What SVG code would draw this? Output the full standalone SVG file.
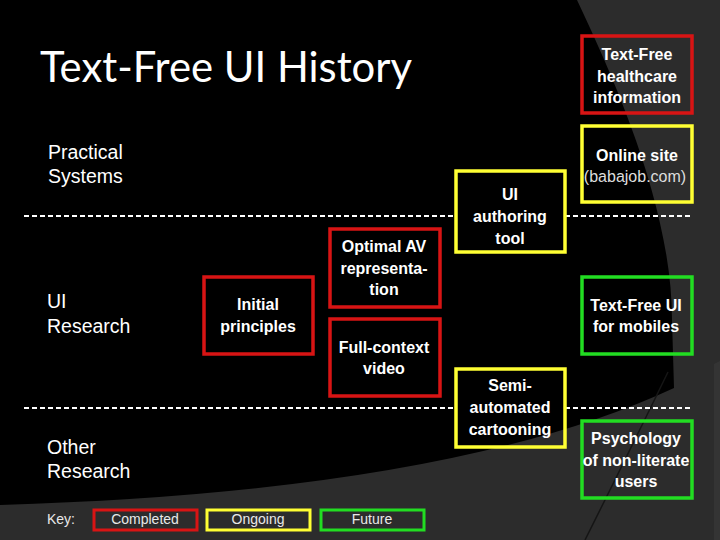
<svg xmlns="http://www.w3.org/2000/svg" width="720" height="540" viewBox="0 0 720 540">
<style>
.lbl{font-family:"Liberation Sans",Arial,sans-serif;font-size:19.5px;fill:#ffffff}
.bt{font-family:"Liberation Sans",Arial,sans-serif;font-size:16px;font-weight:bold;fill:#ffffff;text-anchor:middle}
.kt{font-family:"Liberation Sans",Arial,sans-serif;font-size:14px;fill:#e8e8e8;text-anchor:middle}
.box{fill:none;stroke-width:3.5}
.red{stroke:#d81414}
.yel{stroke:#ffff33}
.grn{stroke:#22dd22}
.dash{stroke:#ffffff;stroke-width:2;stroke-dasharray:5 3;fill:none}
</style>
<g id="background">
<rect x="0" y="0" width="720" height="540" fill="#2c2c2c"/>
<path d="M0,0 L577,0 C622,95 672,215 672,320 L674,388 Q450,492 0,505 Z" fill="#000000"/>
<path d="M714,364 L720,361 L720,540 L714,540 Z" fill="#343434"/>
<path d="M585,540 Q635,440 668,372" fill="none" stroke="#151515" stroke-width="1.5"/>
</g>
<g id="title">
<text x="40" y="82" font-family="Lato,'Open Sans',sans-serif" font-size="42" fill="#ffffff" textLength="372" lengthAdjust="spacingAndGlyphs">Text-Free UI History</text>
</g>
<g id="row-labels">
<text class="lbl" x="48" y="159">Practical</text>
<text class="lbl" x="48" y="183">Systems</text>
<text class="lbl" x="47" y="308">UI</text>
<text class="lbl" x="47" y="333">Research</text>
<text class="lbl" x="47" y="454">Other</text>
<text class="lbl" x="47" y="478">Research</text>
</g>
<g id="connectors">
<line class="dash" x1="24" y1="216" x2="455" y2="216"/>
<line class="dash" x1="565" y1="216" x2="692" y2="216"/>
<line class="dash" x1="24" y1="408" x2="455" y2="408"/>
<line class="dash" x1="565" y1="408" x2="692" y2="408"/>
</g>
<g id="n-healthcare">
<rect class="box red" x="582" y="36" width="110" height="77"/>
<text class="bt" x="637" y="60">Text-Free</text>
<text class="bt" x="637" y="82">healthcare</text>
<text class="bt" x="637" y="103">information</text>
</g>
<g id="n-online">
<rect class="box yel" x="582" y="126" width="110" height="76"/>
<text class="bt" x="637" y="161">Online site</text>
<text class="bt" x="635" y="182" style="font-size:16px;font-weight:normal;fill:#dddddd">(babajob.com)</text>
</g>
<g id="n-authoring">
<rect class="box yel" x="456" y="171" width="109" height="81"/>
<text class="bt" x="510" y="200">UI</text>
<text class="bt" x="510" y="222">authoring</text>
<text class="bt" x="510" y="244">tool</text>
</g>
<g id="n-optimal">
<rect class="box red" x="330" y="229" width="110" height="78"/>
<text class="bt" x="384" y="252">Optimal AV</text>
<text class="bt" x="384" y="274">representa-</text>
<text class="bt" x="384" y="295">tion</text>
</g>
<g id="n-initial">
<rect class="box red" x="204" y="277" width="109" height="77"/>
<text class="bt" x="258" y="310">Initial</text>
<text class="bt" x="258" y="332">principles</text>
</g>
<g id="n-fullcontext">
<rect class="box red" x="330" y="319" width="110" height="77"/>
<text class="bt" x="384" y="353">Full-context</text>
<text class="bt" x="384" y="374">video</text>
</g>
<g id="n-mobiles">
<rect class="box grn" x="582" y="277" width="110" height="77"/>
<text class="bt" x="636" y="311">Text-Free UI</text>
<text class="bt" x="636" y="332">for mobiles</text>
</g>
<g id="n-cartooning">
<rect class="box yel" x="456" y="369" width="109" height="78"/>
<text class="bt" x="510" y="391">Semi-</text>
<text class="bt" x="510" y="413">automated</text>
<text class="bt" x="510" y="435">cartooning</text>
</g>
<g id="n-psychology">
<rect class="box grn" x="582" y="421" width="110" height="77"/>
<text class="bt" x="636" y="444">Psychology</text>
<text class="bt" x="636" y="466">of non-literate</text>
<text class="bt" x="636" y="487">users</text>
</g>
<g id="key">
<text class="kt" x="47" y="524" style="text-anchor:start">Key:</text>
<rect class="box red" x="94" y="510" width="103" height="20" style="stroke-width:3"/>
<text class="kt" x="145" y="524">Completed</text>
<rect class="box yel" x="207" y="510" width="103" height="20" style="stroke-width:3"/>
<text class="kt" x="258" y="524">Ongoing</text>
<rect class="box grn" x="321" y="510" width="103" height="20" style="stroke-width:3"/>
<text class="kt" x="372" y="524">Future</text>
</g>
</svg>
